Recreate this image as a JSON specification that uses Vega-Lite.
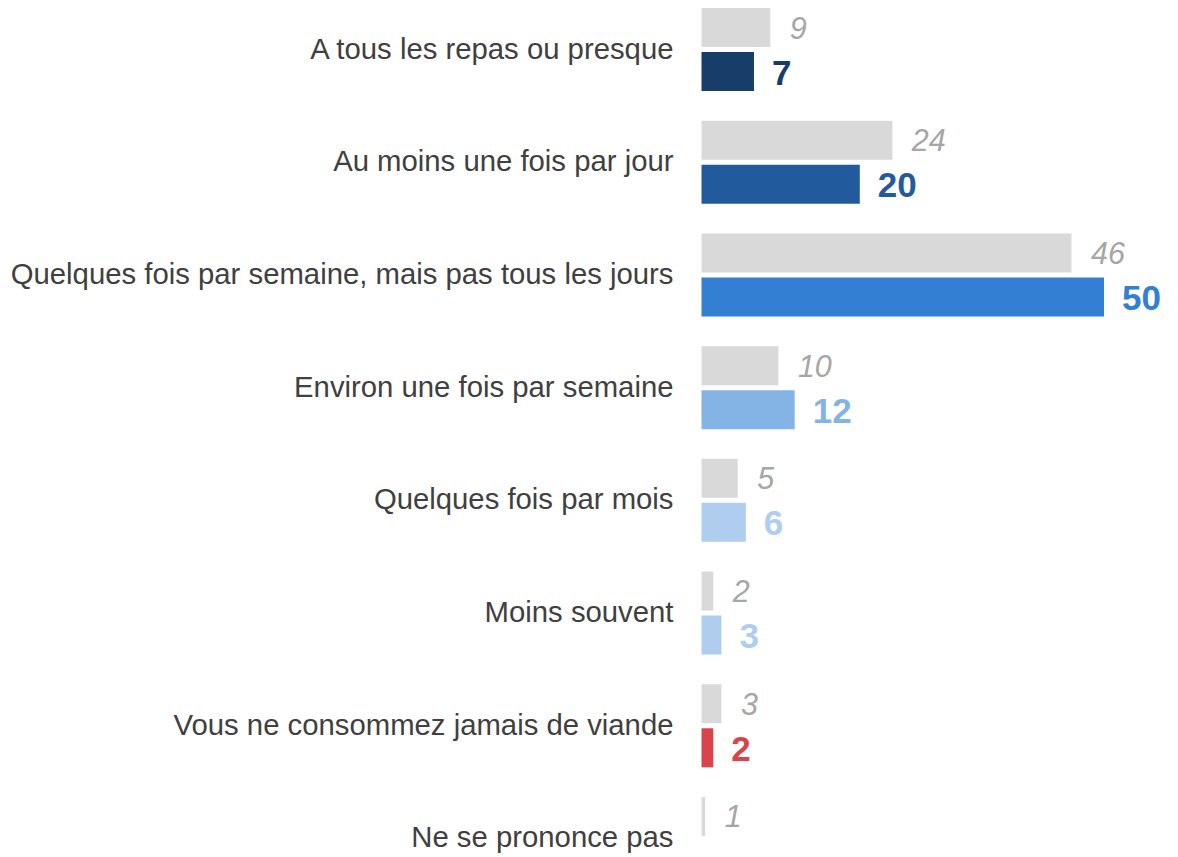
{
  "$schema": "https://vega.github.io/schema/vega-lite/v6.json",
  "autosize": "none",
  "padding": {"left": 697, "top": 0, "right": 74, "bottom": 0},
  "width": 407,
  "height": 888,
  "background": "white",
  "config": {"view": {"stroke": null}, "font": "Liberation Sans"},
  "data": {
    "values": [
      {"cat": "A tous les repas ou presque", "serie": "avant", "cle": "avant", "val": 9},
      {"cat": "A tous les repas ou presque", "serie": "maintenant", "cle": "c1", "val": 7},
      {"cat": "Au moins une fois par jour", "serie": "avant", "cle": "avant", "val": 24},
      {"cat": "Au moins une fois par jour", "serie": "maintenant", "cle": "c2", "val": 20},
      {"cat": "Quelques fois par semaine, mais pas tous les jours", "serie": "avant", "cle": "avant", "val": 46},
      {"cat": "Quelques fois par semaine, mais pas tous les jours", "serie": "maintenant", "cle": "c3", "val": 50},
      {"cat": "Environ une fois par semaine", "serie": "avant", "cle": "avant", "val": 10},
      {"cat": "Environ une fois par semaine", "serie": "maintenant", "cle": "c4", "val": 12},
      {"cat": "Quelques fois par mois", "serie": "avant", "cle": "avant", "val": 5},
      {"cat": "Quelques fois par mois", "serie": "maintenant", "cle": "c5", "val": 6},
      {"cat": "Moins souvent", "serie": "avant", "cle": "avant", "val": 2},
      {"cat": "Moins souvent", "serie": "maintenant", "cle": "c6", "val": 3},
      {"cat": "Vous ne consommez jamais de viande", "serie": "avant", "cle": "avant", "val": 3},
      {"cat": "Vous ne consommez jamais de viande", "serie": "maintenant", "cle": "c7", "val": 2},
      {"cat": "Ne se prononce pas", "serie": "avant", "cle": "avant", "val": 1}
    ]
  },
  "encoding": {
    "y": {
      "field": "cat", "type": "nominal", "sort": null,
      "scale": {"paddingInner": 0.2635, "paddingOuter": 0.071},
      "axis": {"title": null, "ticks": false, "domain": true, "domainColor": "white", "domainWidth": 8, "zindex": 1, "labelPadding": 24, "labelFontSize": 29.3, "labelColor": "#404040", "labelFont": "Liberation Sans", "labelLimit": 1000}
    },
    "yOffset": {
      "field": "serie", "type": "nominal",
      "scale": {"domain": ["avant", "maintenant"], "paddingInner": 0.114, "paddingOuter": 0}
    },
    "x": {"field": "val", "type": "quantitative", "scale": {"domain": [0, 50], "nice": false}, "axis": null},
    "color": {
      "field": "cle", "type": "nominal", "legend": null,
      "scale": {
        "domain": ["avant", "c1", "c2", "c3", "c4", "c5", "c6", "c7"],
        "range": ["#d9d9d9", "#173e69", "#225b9d", "#337fd3", "#84b3e6", "#afcdef", "#afcdef", "#d9434b"]
      }
    }
  },
  "layer": [
    {"mark": {"type": "bar", "cornerRadius": 0}},
    {
      "transform": [{"filter": "datum.serie === 'avant'"}],
      "mark": {"type": "text", "align": "left", "baseline": "middle", "dx": 19.5, "dy": 2, "fontSize": 30.5, "fontStyle": "italic", "color": "#a6a6a6"},
      "encoding": {"text": {"field": "val", "type": "quantitative"}, "color": {"value": "#a6a6a6"}}
    },
    {
      "transform": [{"filter": "datum.serie === 'maintenant'"}],
      "mark": {"type": "text", "align": "left", "baseline": "middle", "dx": 18, "dy": 2, "fontSize": 35, "fontWeight": "bold"},
      "encoding": {"text": {"field": "val", "type": "quantitative"}}
    }
  ]
}
